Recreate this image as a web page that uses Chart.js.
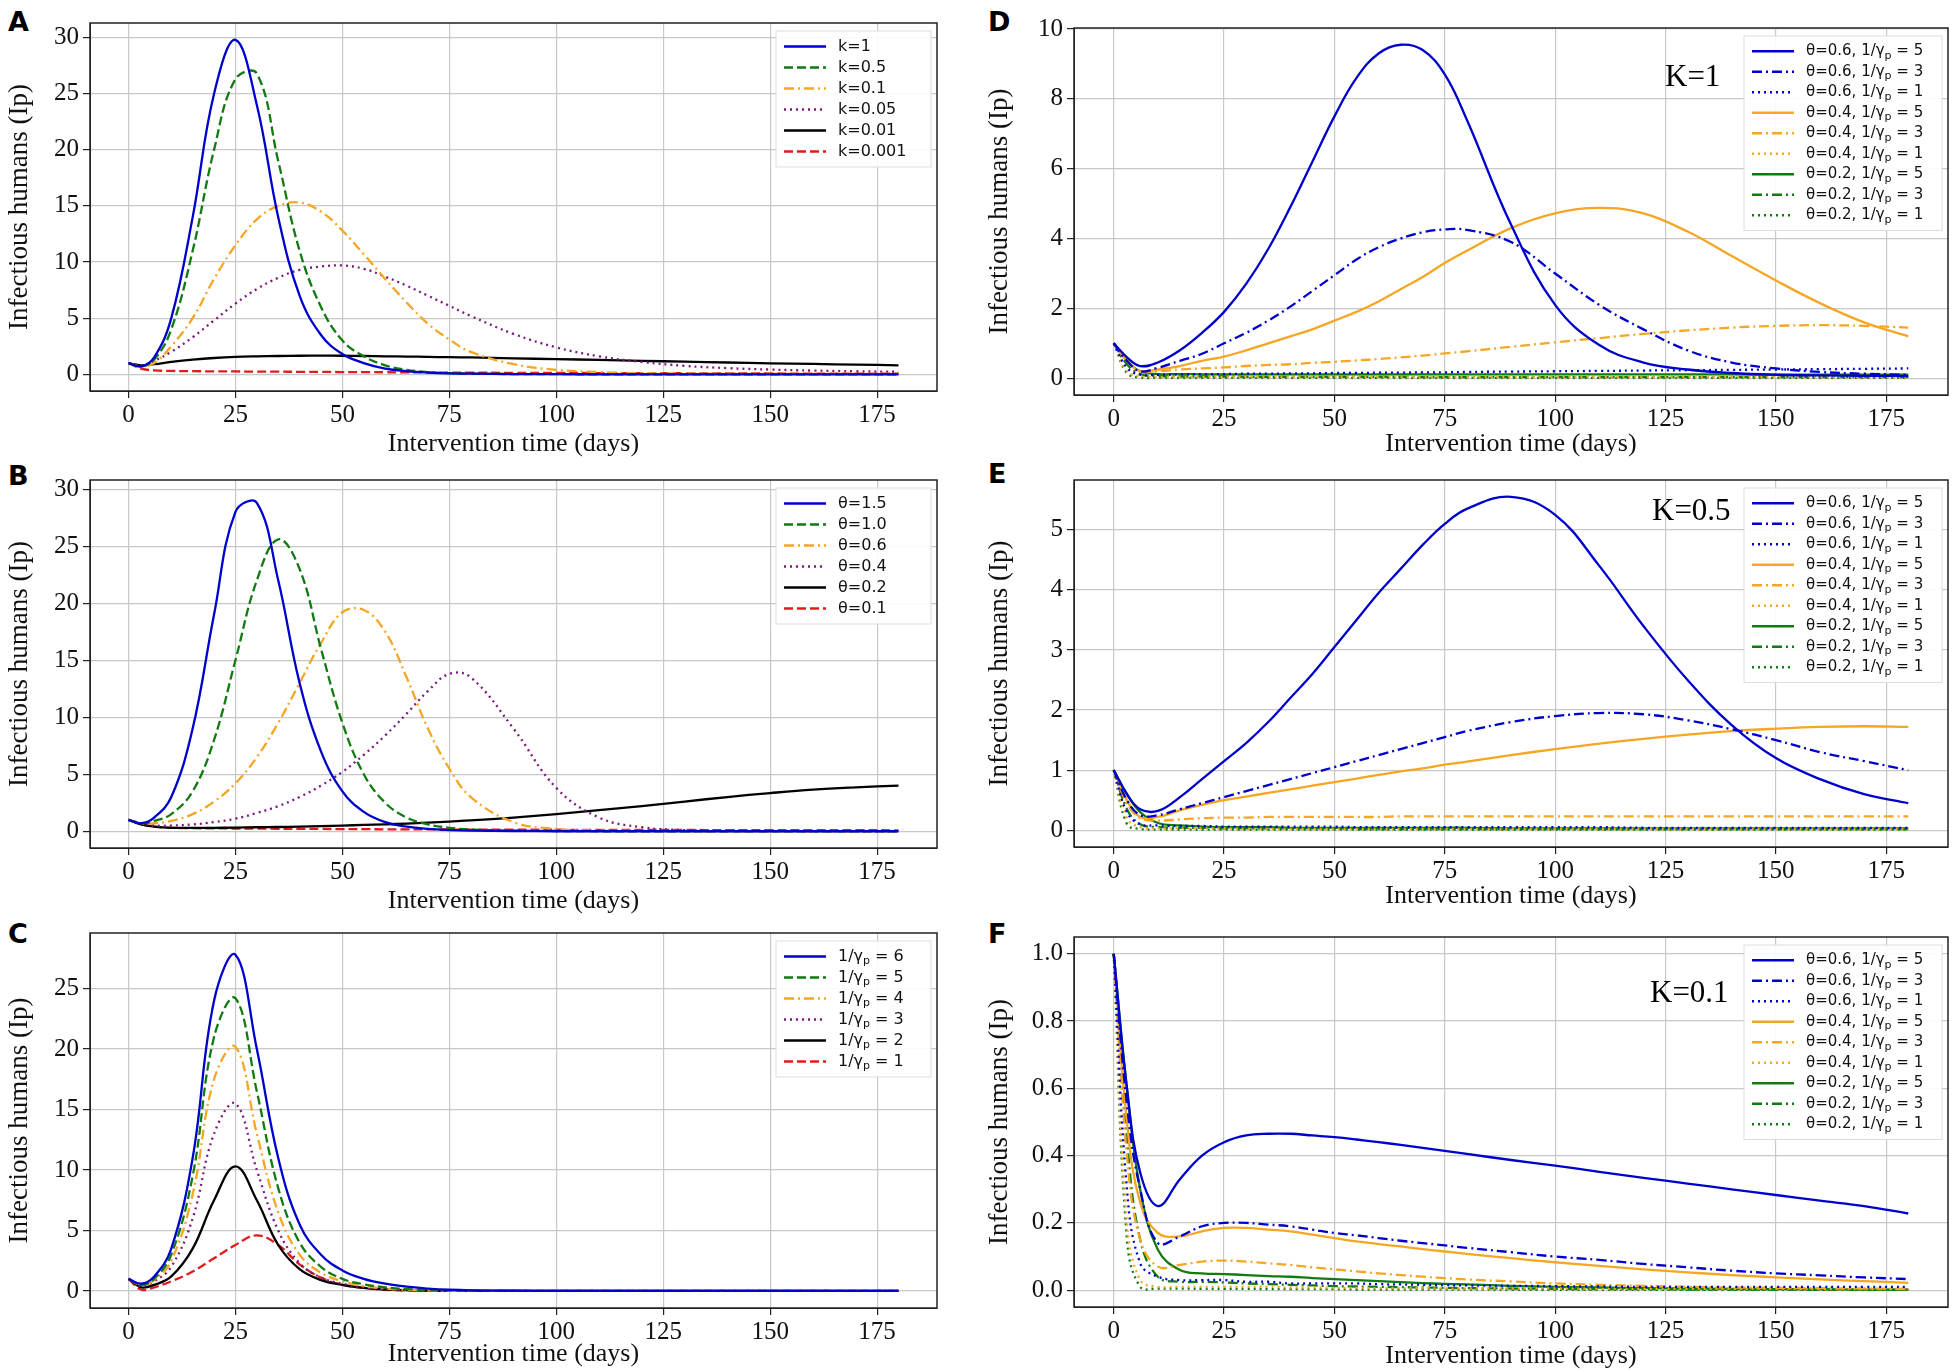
<!DOCTYPE html>
<html>
<head>
<meta charset="utf-8">
<script src="https://cdn.jsdelivr.net/npm/chart.js@4.4.1/dist/chart.umd.min.js"></script>
<style>
  body { margin: 0; background: #fff; width: 1955px; height: 1372px; position: relative; overflow: hidden; }
  .panel { position: absolute; }
  .tag { position: absolute; font-family: "DejaVu Sans", sans-serif; font-weight: bold; font-size: 27px; }
</style>
</head>
<body>
<div class="tag" style="left:8px;top:6px">A</div>
<div class="tag" style="left:8px;top:460px">B</div>
<div class="tag" style="left:8px;top:918px">C</div>
<div class="tag" style="left:988px;top:6px">D</div>
<div class="tag" style="left:988px;top:458px">E</div>
<div class="tag" style="left:988px;top:918px">F</div>
<canvas id="cA" class="panel"></canvas>
<canvas id="cB" class="panel"></canvas>
<canvas id="cC" class="panel"></canvas>
<canvas id="cD" class="panel"></canvas>
<canvas id="cE" class="panel"></canvas>
<canvas id="cF" class="panel"></canvas>
<script>
// days sampled for every series
const days = [0,3,6,10,15,20,25,30,35,40,45,50,55,60,65,70,75,80,90,100,110,120,130,140,150,160,170,180]
const xTicks = [0,25,50,75,100,125,150,175]

// Panel A: k
const kLabels = ["k=1","k=0.5","k=0.1","k=0.05","k=0.01","k=0.001"]
const a_k1    = [1,0.7,1.5,5,14,25,29.8,24,14,7,3.5,1.8,1,0.5,0.28,0.15,0.08,0.05,0.02,0.01,0,0,0,0,0,0,0,0]
const a_k05   = [1,0.7,1.3,4,11,20,26.3,26.8,19,11,6,3,1.6,0.8,0.4,0.2,0.1,0.05,0.02,0.01,0,0,0,0,0,0,0,0]
const a_k01   = [1,0.7,1,2.5,5,8.5,11.5,13.8,15,15.3,14.5,12.8,10.7,8.5,6.4,4.5,3.1,2,0.9,0.4,0.2,0.1,0.07,0.05,0.04,0.03,0.03,0.02]
const a_k005  = [1,0.8,1.2,2,3.3,4.8,6.3,7.6,8.6,9.3,9.6,9.7,9.4,8.7,7.9,7,6.1,5.2,3.6,2.4,1.6,1.1,0.75,0.55,0.42,0.33,0.27,0.22]
const a_k001  = [1,0.8,0.9,1.1,1.3,1.45,1.55,1.6,1.63,1.65,1.66,1.65,1.63,1.6,1.58,1.55,1.52,1.5,1.42,1.35,1.28,1.2,1.12,1.05,0.98,0.92,0.86,0.8]
const a_k0001 = [1,0.5,0.35,0.3,0.28,0.26,0.25,0.24,0.23,0.22,0.21,0.2,0.19,0.18,0.17,0.16,0.15,0.14,0.13,0.12,0.11,0.1,0.09,0.08,0.07,0.06,0.06,0.05]

// Panel B: theta
const thLabels = ["θ=1.5","θ=1.0","θ=0.6","θ=0.4","θ=0.2","θ=0.1"]
const b_15 = [1,0.7,1.2,3,9,19,28,28.8,22,13,7,3.5,1.7,0.8,0.4,0.2,0.1,0.05,0.02,0,0,0,0,0,0,0,0,0]
const b_10 = [1,0.7,0.9,1.5,3.5,8,15,22,25.6,23,16,9.5,5,2.5,1.2,0.6,0.3,0.15,0.05,0.02,0,0,0,0,0,0,0,0]
const b_06 = [1,0.7,0.7,0.9,1.5,2.6,4.2,6.5,9.5,13,16.5,19.2,19.4,17.5,13.5,9,5.5,3,0.8,0.2,0.05,0.02,0,0,0,0,0,0]
const b_04 = [1,0.7,0.5,0.5,0.6,0.8,1.1,1.6,2.2,3,4,5.2,6.7,8.4,10.3,12.3,13.8,13.5,9,3.8,1.2,0.35,0.1,0.03,0.01,0,0,0]
const b_02 = [1,0.6,0.4,0.3,0.3,0.3,0.32,0.35,0.37,0.4,0.45,0.5,0.55,0.6,0.67,0.75,0.85,0.95,1.2,1.5,1.85,2.2,2.6,3,3.35,3.65,3.85,4.0]
const b_01 = [1,0.6,0.4,0.3,0.27,0.25,0.24,0.23,0.22,0.21,0.2,0.19,0.18,0.17,0.17,0.16,0.15,0.15,0.14,0.13,0.12,0.11,0.11,0.1,0.1,0.09,0.09,0.08]

// Panel C: 1/gamma_p
const gLabels = ["1/γ_p = 6","1/γ_p = 5","1/γ_p = 4","1/γ_p = 3","1/γ_p = 2","1/γ_p = 1"]
const c_6 = [1,0.6,1.2,3.5,11,24,27.8,20,11,5.5,3,1.7,1,0.6,0.35,0.2,0.1,0.05,0.02,0,0,0,0,0,0,0,0,0]
const c_5 = [1,0.5,1,3,9.5,21,24.2,16.5,8.5,4,2,1,0.55,0.3,0.15,0.08,0.04,0.02,0,0,0,0,0,0,0,0,0,0]
const c_4 = [1,0.5,0.9,2.5,8,17.5,20.2,13,6.5,3,1.5,0.8,0.4,0.2,0.1,0.05,0.02,0.01,0,0,0,0,0,0,0,0,0,0]
const c_3 = [1,0.4,0.8,2,6,13,15.5,10,5,2.3,1.1,0.6,0.3,0.15,0.08,0.04,0.02,0.01,0,0,0,0,0,0,0,0,0,0]
const c_2 = [1,0.3,0.5,1.2,3.5,7.5,10.3,7.5,3.8,1.8,0.9,0.5,0.25,0.12,0.06,0.03,0.01,0,0,0,0,0,0,0,0,0,0,0]
const c_1 = [1,0.1,0.3,0.8,1.6,2.7,3.8,4.6,3.8,2.2,1.1,0.5,0.25,0.1,0.05,0.02,0.01,0,0,0,0,0,0,0,0,0,0,0]

// Panels D-F: theta / 1/gamma_p combos
const comboLabels = ["θ=0.6, 1/γ_p = 5","θ=0.6, 1/γ_p = 3","θ=0.6, 1/γ_p = 1","θ=0.4, 1/γ_p = 5","θ=0.4, 1/γ_p = 3","θ=0.4, 1/γ_p = 1","θ=0.2, 1/γ_p = 5","θ=0.2, 1/γ_p = 3","θ=0.2, 1/γ_p = 1"]

const d_65 = [1,0.6,0.35,0.45,0.8,1.3,1.9,2.7,3.7,4.9,6.2,7.5,8.6,9.3,9.55,9.4,8.7,7.4,4.4,2.1,0.95,0.45,0.25,0.15,0.1,0.08,0.07,0.06]
const d_63 = [1,0.5,0.2,0.3,0.5,0.7,1,1.3,1.65,2.05,2.5,2.95,3.4,3.75,4.0,4.18,4.26,4.25,3.9,3,2.1,1.4,0.8,0.45,0.28,0.18,0.13,0.1]
const d_61 = [1,0.3,0.1,0.1,0.11,0.12,0.12,0.13,0.13,0.14,0.14,0.15,0.15,0.16,0.16,0.17,0.17,0.18,0.19,0.2,0.21,0.22,0.23,0.24,0.25,0.26,0.27,0.28]
const d_45 = [1,0.5,0.2,0.25,0.35,0.5,0.62,0.8,1,1.2,1.4,1.65,1.9,2.2,2.55,2.9,3.3,3.65,4.3,4.72,4.88,4.72,4.2,3.5,2.8,2.15,1.6,1.2]
const d_43 = [1,0.5,0.2,0.2,0.25,0.28,0.31,0.35,0.38,0.4,0.44,0.47,0.51,0.55,0.6,0.65,0.71,0.77,0.9,1.03,1.15,1.27,1.37,1.45,1.5,1.52,1.5,1.45]
const d_41 = [1,0.2,0.05,0.03,0.03,0.03,0.03,0.03,0.03,0.03,0.03,0.03,0.03,0.03,0.03,0.03,0.03,0.03,0.03,0.03,0.03,0.03,0.03,0.03,0.03,0.03,0.03,0.03]
const d_25 = [1,0.5,0.2,0.12,0.12,0.11,0.11,0.11,0.11,0.11,0.11,0.11,0.11,0.11,0.11,0.11,0.11,0.11,0.11,0.11,0.11,0.11,0.11,0.11,0.1,0.1,0.1,0.1]
const d_23 = [1,0.4,0.12,0.06,0.05,0.05,0.05,0.04,0.04,0.04,0.04,0.04,0.04,0.04,0.04,0.03,0.03,0.03,0.03,0.03,0.03,0.03,0.03,0.03,0.03,0.03,0.03,0.03]
const d_21 = [1,0.15,0.02,0.01,0.01,0.01,0.01,0.01,0.01,0.01,0.01,0.01,0.01,0.01,0.01,0.01,0.01,0.01,0.01,0.01,0.01,0.01,0.01,0.01,0.01,0.01,0.01,0.01]

const e_65 = [1,0.6,0.35,0.32,0.55,0.85,1.15,1.45,1.8,2.2,2.6,3.05,3.5,3.95,4.35,4.75,5.1,5.35,5.55,5.25,4.4,3.4,2.5,1.75,1.2,0.85,0.6,0.45]
const e_63 = [1,0.5,0.25,0.25,0.35,0.45,0.55,0.65,0.75,0.85,0.95,1.05,1.15,1.25,1.35,1.45,1.55,1.65,1.8,1.9,1.95,1.93,1.83,1.68,1.5,1.3,1.15,1.0]
const e_61 = [1,0.3,0.1,0.08,0.07,0.07,0.06,0.06,0.06,0.06,0.06,0.06,0.05,0.05,0.05,0.05,0.05,0.05,0.05,0.05,0.05,0.04,0.04,0.04,0.04,0.04,0.04,0.04]
const e_45 = [1,0.5,0.22,0.22,0.33,0.42,0.5,0.56,0.62,0.68,0.74,0.8,0.86,0.92,0.98,1.03,1.09,1.14,1.25,1.35,1.44,1.52,1.59,1.65,1.69,1.72,1.73,1.72]
const e_43 = [1,0.45,0.2,0.16,0.18,0.2,0.21,0.21,0.22,0.22,0.22,0.22,0.22,0.22,0.23,0.23,0.23,0.23,0.23,0.23,0.23,0.23,0.23,0.23,0.23,0.23,0.23,0.23]
const e_41 = [1,0.2,0.05,0.03,0.03,0.03,0.03,0.02,0.02,0.02,0.02,0.02,0.02,0.02,0.02,0.02,0.02,0.02,0.02,0.02,0.02,0.02,0.02,0.02,0.02,0.02,0.02,0.02]
const e_25 = [1,0.6,0.3,0.12,0.08,0.06,0.05,0.05,0.05,0.04,0.04,0.04,0.04,0.04,0.04,0.04,0.04,0.04,0.03,0.03,0.03,0.03,0.03,0.03,0.03,0.03,0.03,0.03]
const e_23 = [1,0.35,0.1,0.05,0.04,0.04,0.03,0.03,0.03,0.03,0.03,0.03,0.02,0.02,0.02,0.02,0.02,0.02,0.02,0.02,0.02,0.02,0.02,0.02,0.02,0.02,0.02,0.02]
const e_21 = [1,0.1,0.02,0.01,0.01,0.01,0.01,0.01,0.01,0.01,0.01,0.01,0.01,0.01,0.01,0.01,0.01,0.01,0.01,0.01,0.01,0.01,0.01,0.01,0.01,0.01,0.01,0.01]

const f_65 = [1,0.6,0.35,0.25,0.33,0.4,0.44,0.46,0.465,0.465,0.46,0.455,0.448,0.44,0.432,0.423,0.414,0.405,0.387,0.37,0.352,0.334,0.317,0.3,0.283,0.266,0.25,0.228]
const f_63 = [1,0.55,0.3,0.14,0.16,0.19,0.2,0.2,0.195,0.19,0.18,0.17,0.163,0.155,0.147,0.14,0.133,0.126,0.113,0.1,0.09,0.078,0.068,0.058,0.05,0.044,0.038,0.033]
const f_61 = [1,0.3,0.08,0.04,0.03,0.03,0.03,0.025,0.025,0.02,0.02,0.02,0.02,0.018,0.017,0.016,0.015,0.014,0.013,0.012,0.011,0.01,0.01,0.01,0.01,0.01,0.01,0.01]
const f_45 = [1,0.5,0.26,0.17,0.16,0.175,0.185,0.185,0.18,0.175,0.165,0.155,0.145,0.137,0.13,0.122,0.115,0.108,0.095,0.083,0.072,0.062,0.053,0.045,0.038,0.032,0.027,0.022]
const f_43 = [1,0.4,0.15,0.07,0.075,0.085,0.088,0.085,0.08,0.075,0.068,0.062,0.056,0.05,0.045,0.04,0.036,0.032,0.026,0.02,0.016,0.013,0.01,0.008,0.007,0.006,0.005,0.004]
const f_41 = [1,0.2,0.03,0.01,0.01,0.01,0.01,0.01,0.01,0.008,0.008,0.007,0.007,0.006,0.006,0.006,0.005,0.005,0.005,0.005,0.004,0.004,0.004,0.004,0.004,0.003,0.003,0.003]
const f_25 = [1,0.6,0.3,0.12,0.06,0.05,0.048,0.045,0.042,0.04,0.036,0.033,0.03,0.027,0.024,0.021,0.019,0.017,0.013,0.01,0.008,0.006,0.005,0.004,0.003,0.003,0.002,0.002]
const f_23 = [1,0.45,0.15,0.04,0.025,0.025,0.023,0.02,0.018,0.016,0.014,0.012,0.011,0.01,0.009,0.008,0.007,0.006,0.005,0.004,0.003,0.003,0.002,0.002,0.002,0.001,0.001,0.001]
const f_21 = [1,0.15,0.01,0.005,0.005,0.004,0.004,0.004,0.003,0.003,0.003,0.003,0.002,0.002,0.002,0.002,0.002,0.002,0.001,0.001,0.001,0.001,0.001,0.001,0.001,0.001,0.001,0.001]

const BLUE = "#0000cc", GREEN = "#117a11", ORANGE = "#f5a623", PURPLE = "#7a1a7a", BLACK = "#000000", RED = "#e01c1c"
const DASH = [9, 4], DASHDOT = [10, 4, 2, 4], DOT = [2, 4], SOLID = []

const serif = "Liberation Serif"
const sans = "DejaVu Sans"
Chart.defaults.font.family = serif
Chart.defaults.font.size = 25
Chart.defaults.color = "#111"

// draws text where "_p" becomes a subscript p
function drawLabel(ctx, text, x, y, size) {
  const parts = text.split("_p")
  ctx.font = size + "px '" + sans + "'"
  let cx = x
  parts.forEach((p, i) => {
    if (i > 0) {
      ctx.font = Math.round(size * 0.7) + "px '" + sans + "'"
      ctx.fillText("p", cx, y + size * 0.3)
      cx += ctx.measureText("p").width
      ctx.font = size + "px '" + sans + "'"
    }
    ctx.fillText(p, cx, y)
    cx += ctx.measureText(p).width
  })
}

const framePlugin = {
  id: "frame",
  afterDraw(chart, args, opts) {
    const { ctx, chartArea: a } = chart
    ctx.save()
    ctx.strokeStyle = "#222"
    ctx.lineWidth = 1.5
    ctx.strokeRect(a.left, a.top, a.right - a.left, a.bottom - a.top)
    // legend box
    const ds = chart.data.datasets
    const rowH = opts.rowH, fs = opts.fontSize
    const w = opts.boxW, h = ds.length * rowH + 10
    const x0 = a.right - w - 6, y0 = a.top + 8
    ctx.fillStyle = "rgba(255,255,255,0.9)"
    ctx.fillRect(x0, y0, w, h)
    ctx.strokeStyle = "#ddd"
    ctx.lineWidth = 1
    ctx.strokeRect(x0, y0, w, h)
    ds.forEach((d, i) => {
      const yy = y0 + 5 + rowH * (i + 0.5)
      ctx.strokeStyle = d.borderColor
      ctx.lineWidth = 2.5
      ctx.setLineDash(d.borderDash)
      ctx.beginPath()
      ctx.moveTo(x0 + 8, yy)
      ctx.lineTo(x0 + 50, yy)
      ctx.stroke()
      ctx.setLineDash([])
      ctx.fillStyle = "#111"
      ctx.textBaseline = "middle"
      drawLabel(ctx, d.label, x0 + 62, yy, fs)
    })
    if (opts.note) {
      ctx.fillStyle = "#000"
      ctx.font = "31px '" + serif + "'"
      ctx.textBaseline = "middle"
      ctx.textAlign = "left"
      ctx.fillText(opts.note, opts.noteX, opts.noteY)
    }
    ctx.restore()
  }
}

function makeChart(id, pos, labels, series, styles, yMin, yMax, yStep, legend) {
  const el = document.getElementById(id)
  el.style.left = pos.left + "px"
  el.style.top = pos.top + "px"
  el.style.width = pos.width + "px"
  el.style.height = pos.height + "px"
  el.width = pos.width
  el.height = pos.height
  const datasets = series.map((s, i) => ({
    label: labels[i],
    data: days.map((d, j) => ({ x: d, y: s[j] })),
    borderColor: styles[i][0],
    borderDash: styles[i][1],
    borderWidth: 2.3,
    pointRadius: 0,
    tension: 0.4,
    fill: false
  }))
  return new Chart(el.getContext("2d"), {
    type: "line",
    data: { datasets },
    plugins: [framePlugin],
    options: {
      responsive: false,
      animation: false,
      layout: { padding: { top: pos.padTop, right: pos.padRight, left: 0, bottom: 0 } },
      plugins: {
        legend: { display: false },
        tooltip: { enabled: false },
        frame: legend
      },
      scales: {
        x: {
          type: "linear", min: -9, max: 189,
          afterBuildTicks: (s) => { s.ticks = xTicks.map(v => ({ value: v })) },
          afterFit: (s) => { s.height = pos.xH },
          grid: { color: "#c8c8c8", lineWidth: 1.2, tickColor: "#222", tickLength: 7 },
          border: { color: "#222" },
          ticks: { color: "#111", font: { family: serif, size: 25 }, maxRotation: 0, padding: 2 },
          title: { display: true, text: "Intervention time (days)", color: "#111", font: { family: serif, size: 26 }, padding: { top: 2, bottom: 0 } }
        },
        y: {
          min: yMin, max: yMax,
          afterBuildTicks: (s) => {
            const t = []
            for (let v = 0; v <= yMax + 1e-9; v += yStep) t.push({ value: Math.round(v * 100) / 100 })
            s.ticks = t
          },
          afterFit: (s) => { s.width = pos.yW },
          grid: { color: "#c8c8c8", lineWidth: 1.2, tickColor: "#222", tickLength: 7 },
          border: { color: "#222" },
          ticks: { color: "#111", font: { family: serif, size: 25 }, padding: 4,
            callback: (v) => pos.dec ? v.toFixed(1) : v },
          title: { display: true, text: "Infectious humans (Ip)", color: "#111", font: { family: serif, size: 27 }, padding: { bottom: 2 } }
        }
      }
    }
  })
}

const abcStyles = [[BLUE, SOLID], [GREEN, DASH], [ORANGE, DASHDOT], [PURPLE, DOT], [BLACK, SOLID], [RED, DASH]]
const comboStyles = [[BLUE, SOLID], [BLUE, DASHDOT], [BLUE, DOT], [ORANGE, SOLID], [ORANGE, DASHDOT], [ORANGE, DOT], [GREEN, SOLID], [GREEN, DASHDOT], [GREEN, DOT]]
const legSmall = { rowH: 21, fontSize: 16, boxW: 155 }

const left = (top) => ({ left: 0, top, width: 945, height: 460, padTop: 23, padRight: 8, yW: 90, xH: 69 })
const right = (top) => ({ left: 980, top, width: 975, height: 460, padTop: 28, padRight: 7, yW: 94, xH: 65 })

makeChart("cA", left(0), kLabels, [a_k1, a_k05, a_k01, a_k005, a_k001, a_k0001], abcStyles, -1.49, 31.3, 5, legSmall)
makeChart("cB", left(457), thLabels, [b_15, b_10, b_06, b_04, b_02, b_01], abcStyles, -1.47, 30.8, 5, legSmall)
makeChart("cC", Object.assign(left(910), { height: 460, xH: 62 }), gLabels, [c_6, c_5, c_4, c_3, c_2, c_1], abcStyles, -1.41, 29.6, 5, legSmall)

const legCombo = (note, nx, ny) => ({ rowH: 20.5, fontSize: 15, boxW: 198, note, noteX: nx, noteY: ny })
makeChart("cD", right(0), comboLabels, [d_65, d_63, d_61, d_45, d_43, d_41, d_25, d_23, d_21], comboStyles, -0.48, 10.03, 2, legCombo("K=1", 685, 78))
makeChart("cE", right(452), comboLabels, [e_65, e_63, e_61, e_45, e_43, e_41, e_25, e_23, e_21], comboStyles, -0.28, 5.83, 1, legCombo("K=0.5", 672, 60))
makeChart("cF", Object.assign(right(909), { height: 463, padTop: 28, dec: true }), comboLabels, [f_65, f_63, f_61, f_45, f_43, f_41, f_25, f_23, f_21], comboStyles, -0.05, 1.05, 0.2, legCombo("K=0.1", 670, 85))
</script>
</body>
</html>
